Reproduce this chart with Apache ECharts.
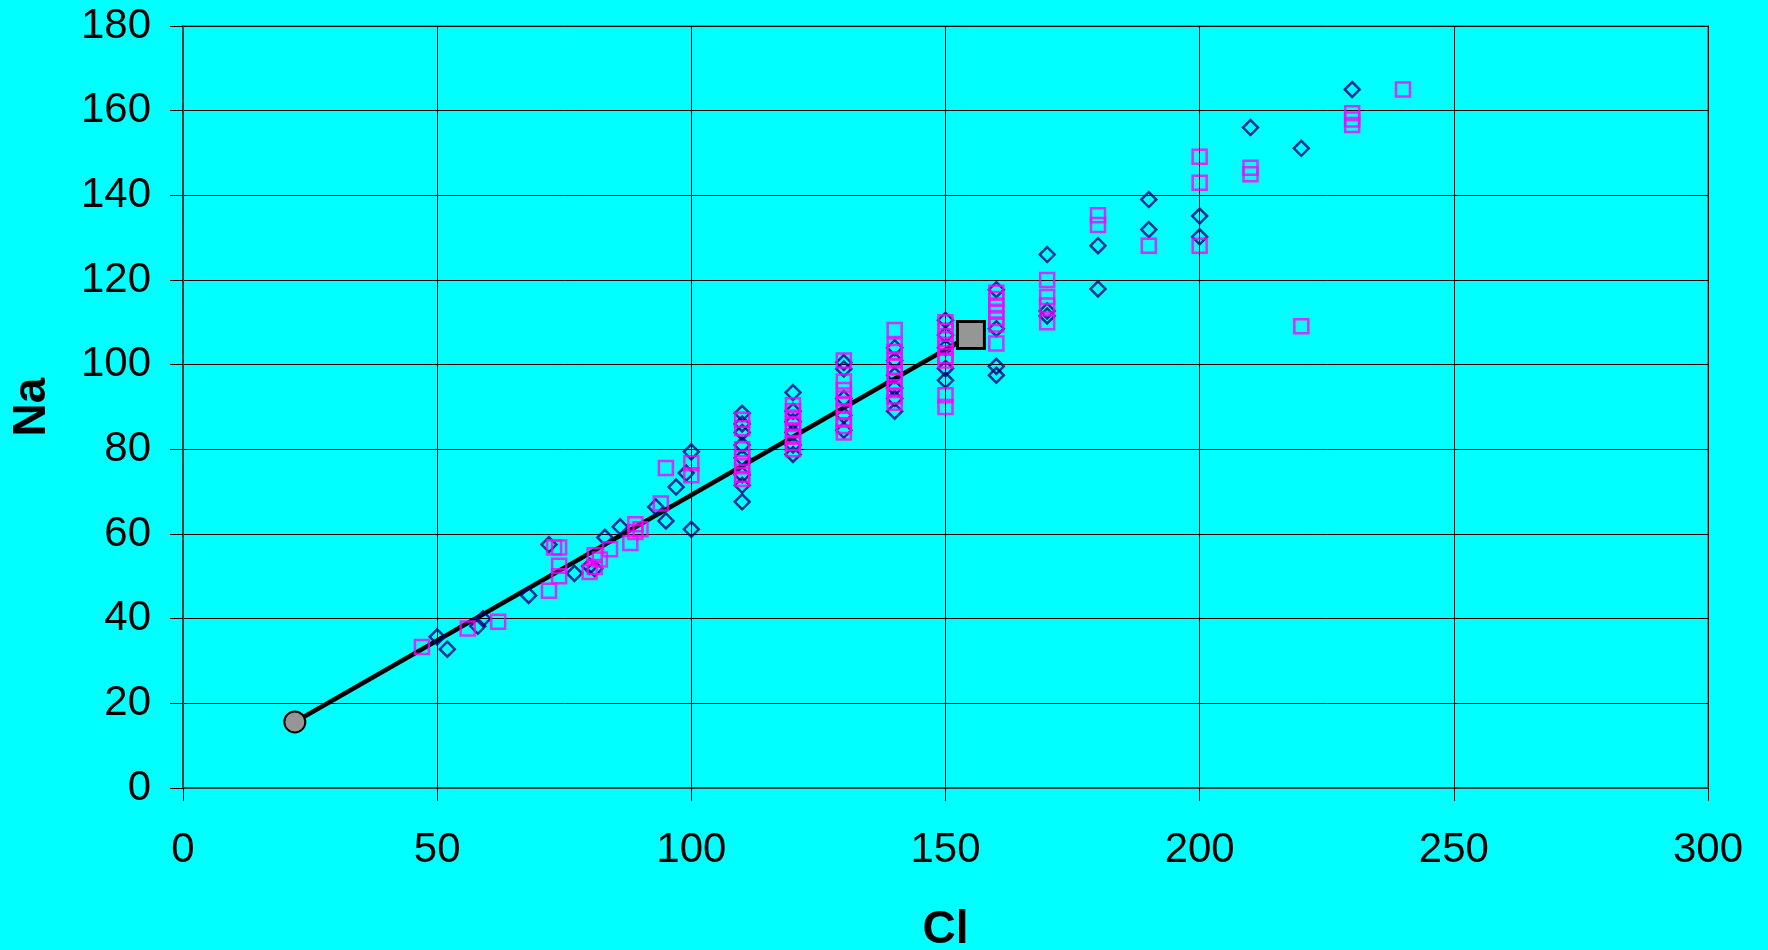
<!DOCTYPE html>
<html>
<head>
<meta charset="utf-8">
<title>Na vs Cl</title>
<script src="https://cdn.jsdelivr.net/npm/echarts@6/dist/echarts.min.js"></script>
<style>
  html, body { margin: 0; padding: 0; background: #00FFFF; }
  #chart { width: 1768px; height: 950px; }
</style>
</head>
<body>
<div id="chart"></div>
<script>
// Axis ticks
const xTicks = [0, 50, 100, 150, 200, 250, 300];
const yTicks = [0, 20, 40, 60, 80, 100, 120, 140, 160, 180];

// Diamond series (Cl, Na)
const diamondCl = [
  50, 52, 58, 59, 68, 72, 77, 80, 81, 83, 86, 93, 95, 97, 99, 100, 100,
  110, 110, 110, 110, 110, 110, 110, 110,
  120, 120, 120, 120, 120, 120,
  130, 130, 130, 130, 130,
  140, 140, 140, 140, 140, 140,
  150, 150, 150, 150, 150,
  160, 160, 160, 160,
  170, 170, 170,
  180, 180,
  190, 190,
  200, 200,
  210, 220, 230
];
const diamondNa = [
  35.7, 32.8, 38.2, 40.0, 45.5, 57.5, 50.7, 52.4, 51.8, 59.2, 61.7, 66.4, 63.1, 71.1, 74.4, 79.4, 61.1,
  88.5, 86, 84, 81, 78, 74, 71.5, 67.6,
  93.4, 89, 86.5, 84, 81, 78.8,
  100.5, 99, 92, 88, 84.5,
  104, 101, 97.5, 94.5, 92, 89,
  110.5, 107, 104, 99.1, 96.3,
  117.7, 108.5, 99.6, 97.5,
  126, 112.7, 111.5,
  128.1, 117.9,
  139, 131.9,
  135.1, 130.2,
  156, 151.1, 165
];

// Square series (Cl, Na)
const squareCl = [
  47, 56, 62, 72, 73, 74, 74, 74, 80, 81, 82, 81, 84, 88, 89, 90, 89, 94, 95, 100, 100,
  110, 110, 110, 110, 110, 110, 110,
  120, 120, 120, 120, 120, 120, 120, 120,
  130, 130, 130, 130, 130, 130, 130, 130, 130,
  140, 140, 140, 140, 140, 140, 140, 140, 140, 140,
  150, 150, 150, 150, 150, 150, 150, 150,
  160, 160, 160, 160, 160, 160, 160,
  170, 170, 170, 170,
  180, 180,
  190,
  200, 200, 200,
  210, 210,
  220,
  230, 230, 230,
  240
];
const squareNa = [
  33.3, 37.7, 39.3, 46.6, 56.8, 56.8, 52.5, 50.0, 51.0, 52.2, 54.0, 55.0, 56.4, 57.9, 62.3, 61.1, 60.5, 67.2, 75.6, 76.7, 73.9,
  87, 85, 80, 78, 76, 74, 73,
  90.4, 89, 87.5, 86, 84.5, 83, 81.5, 80,
  101, 96, 94, 92, 90.5, 89, 87, 85.5, 84,
  108.2, 104.5, 103, 101, 99.5, 98, 96, 94, 92.5, 91,
  110, 108, 106, 104, 102, 101, 92.8, 90,
  117, 115.5, 114, 112.5, 111, 109.5, 105,
  120, 116, 114, 110,
  135.3, 133,
  128.1,
  149.1, 143, 128.1,
  146.5, 145,
  109.1,
  159.4, 157.9, 156.6,
  165
];

// Mixing line end members (Cl, Na)
const mixStart = [22, 15.6];
const mixEnd = [155, 107];

const pairs = (xs, ys) => xs.map((x, i) => [x, ys[i]]);

const FONT = '"Liberation Sans", Arial, sans-serif';

const chart = echarts.init(document.getElementById('chart'), null, { renderer: 'canvas' });

chart.setOption({
  backgroundColor: '#00FFFF',
  animation: false,
  grid: {
    left: 183, right: 60, top: 26, bottom: 162,
    outerBoundsMode: 'none',
    containLabel: false,
    show: true,
    backgroundColor: '#00FFFF',
    borderColor: '#808080',
    borderWidth: 2
  },
  xAxis: {
    type: 'value',
    min: xTicks[0],
    max: xTicks[xTicks.length - 1],
    interval: xTicks[1] - xTicks[0],
    name: 'Cl',
    nameLocation: 'middle',
    nameGap: 119,
    nameTextStyle: { fontFamily: FONT, fontSize: 46, fontWeight: 'bold', color: '#000' },
    axisLine: { show: true, onZero: false, lineStyle: { color: '#404040', width: 2 } },
    axisTick: { show: true, inside: false, length: 13, lineStyle: { color: '#000', width: 1 } },
    axisLabel: { margin: 41, fontFamily: FONT, fontSize: 42, color: '#000' },
    splitLine: { show: true, lineStyle: { color: '#000', width: 1 } }
  },
  yAxis: {
    type: 'value',
    min: yTicks[0],
    max: yTicks[yTicks.length - 1],
    interval: yTicks[1] - yTicks[0],
    name: 'Na',
    nameLocation: 'middle',
    nameGap: 128,
    nameTextStyle: { fontFamily: FONT, fontSize: 46, fontWeight: 'bold', color: '#000' },
    axisLine: { show: true, onZero: false, lineStyle: { color: '#404040', width: 2 } },
    axisTick: { show: true, inside: false, length: 13, lineStyle: { color: '#000', width: 1 } },
    axisLabel: { margin: 32, fontFamily: FONT, fontSize: 42, color: '#000' },
    splitLine: { show: true, lineStyle: { color: '#000', width: 1 } }
  },
  series: [
    {
      name: 'mixing',
      type: 'line',
      z: 2,
      data: [
        { value: mixStart, symbol: 'circle', symbolSize: 21,
          itemStyle: { color: '#969696', borderColor: '#000', borderWidth: 2 } },
        { value: mixEnd, symbol: 'rect', symbolSize: 27,
          itemStyle: { color: '#969696', borderColor: '#000', borderWidth: 3 } }
      ],
      showAllSymbol: true,
      lineStyle: { color: '#000', width: 4.5 },
      emphasis: { disabled: true }
    },
    {
      name: 'diamond',
      type: 'scatter',
      z: 3,
      symbol: 'diamond',
      symbolSize: 15,
      data: pairs(diamondCl, diamondNa),
      itemStyle: { color: 'rgba(0,0,0,0)', borderColor: '#000080', borderWidth: 2.5 },
      emphasis: { disabled: true }
    },
    {
      name: 'square',
      type: 'scatter',
      z: 4,
      symbol: 'rect',
      symbolSize: 14,
      data: pairs(squareCl, squareNa),
      itemStyle: { color: 'rgba(0,0,0,0)', borderColor: '#FF00FF', borderWidth: 2.5 },
      emphasis: { disabled: true }
    }
  ]
});
</script>
</body>
</html>
